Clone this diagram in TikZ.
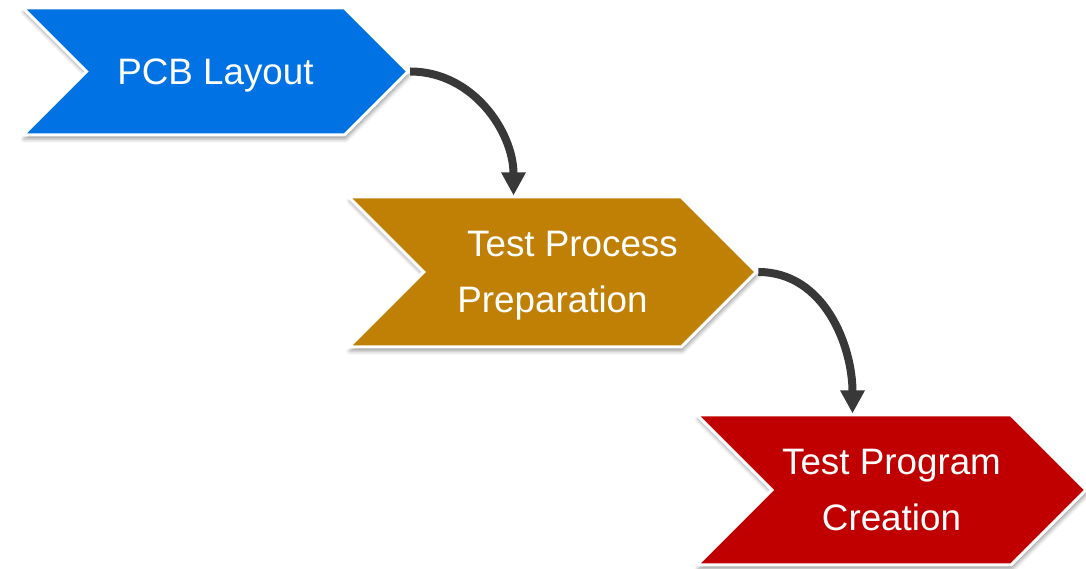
\documentclass[tikz,border=0pt]{standalone}
\usepackage{fontspec}
\setmainfont{Liberation Sans}
\usepackage{tikz}
\usetikzlibrary{arrows.meta,shapes.symbols,shadows.blur}
\definecolor{layoutBlue}{RGB}{0,114,227}
\definecolor{prepGold}{RGB}{192,128,6}
\definecolor{progRed}{RGB}{192,0,0}
\definecolor{flowGray}{RGB}{56,56,56}
\tikzset{
chevron/.style = {signal, signal to=east, signal from=west, signal pointer angle=90,
  draw=white, line width=3pt, fill=#1, text=white, align=center, text depth=0pt,
  font=\fontsize{36.8}{56.5}\selectfont, minimum height=150pt,
  blur shadow={shadow xshift=1pt, shadow yshift=-4pt, shadow blur radius=4pt, shadow opacity=40}},
chevron/.default = layoutBlue, % fill colour
flow/.style = {-{Triangle[width=23pt,length=23pt]}, line width=8pt, draw=flowGray},
}

\begin{document}
\begin{tikzpicture}[x=1pt,y=1pt]
    \useasboundingbox (0,0) rectangle (1086,569);

    \node[chevron, minimum width=385pt, minimum height=127pt] (layoutBox) at (215.5,497.5) {PCB Layout};
    \node[chevron=prepGold, minimum width=391pt] (prepBox) at (552.5,297) {\hspace*{40pt}Test Process\\Preparation};
    \node[chevron=progRed, minimum width=389pt] (progBox) at (891.5,79) {Test Program\\Creation};

    \draw[flow] (layoutBox.east) to[out=0, in=90] ([xshift=-39pt]prepBox.north);
    \draw[flow] (prepBox.east) to[out=0, in=90] ([xshift=-39pt]progBox.north);
\end{tikzpicture}
\end{document}
